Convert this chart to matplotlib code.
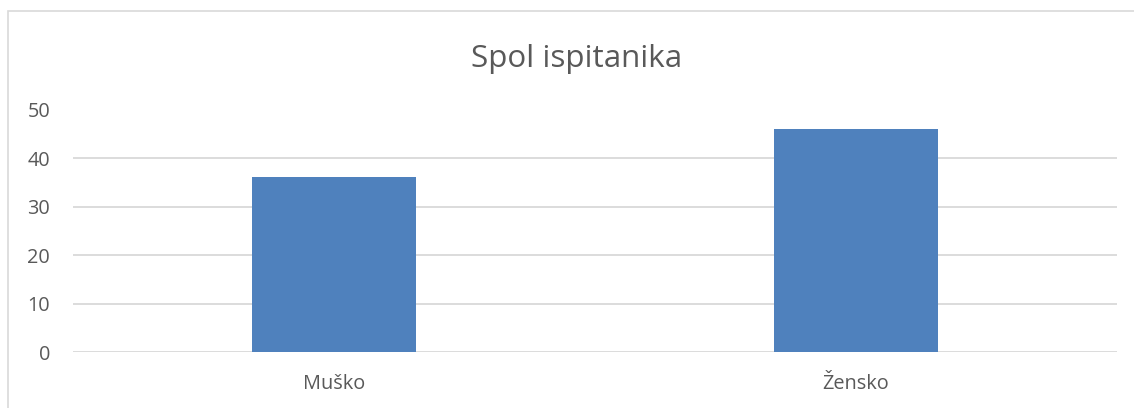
import matplotlib.pyplot as plt
from matplotlib.patches import Rectangle

categories = ["Muško", "Žensko"]
values = [36, 46]
yticks = [0, 10, 20, 30, 40, 50]

plt.rcParams["font.family"] = ["Open Sans", "DejaVu Sans"]

W, H = 1134, 408
fig = plt.figure(figsize=(W / 100, H / 100), dpi=100)
ax = fig.add_axes([73 / W, 1 - 352.3 / H, (1117 - 73) / W, (352.3 - 109.5) / H])

# chart frame (runs off the right and bottom edge)
fig.patches.append(Rectangle((8 / W, -0.1), 1.2, 1 - 11 / H + 0.1,
                             transform=fig.transFigure, fill=False,
                             edgecolor="#d9d9d9", linewidth=1.2))

x = range(len(categories))
ax.bar(x, values, width=0.314, color="#4f81bd", zorder=3)

ax.set_xlim(-0.5, len(categories) - 0.5)
ax.set_ylim(0, 50)
ax.set_yticks(yticks)
ax.set_xticks(list(x))
ax.set_xticklabels(categories)
ax.grid(axis="y", color="#d9d9d9", linewidth=1.3, zorder=0)
for s in ax.spines.values():
    s.set_visible(False)
ax.tick_params(length=0, labelsize=14.3, colors="#595959")
ax.tick_params(axis="y", pad=16.5)
ax.tick_params(axis="x", pad=15.5)

fig.text(576.7 / W, 1 - 66.7 / H, "Spol ispitanika", ha="center", va="baseline",
         fontsize=22.6, color="#595959")

fig.savefig("out.png", dpi=100)
